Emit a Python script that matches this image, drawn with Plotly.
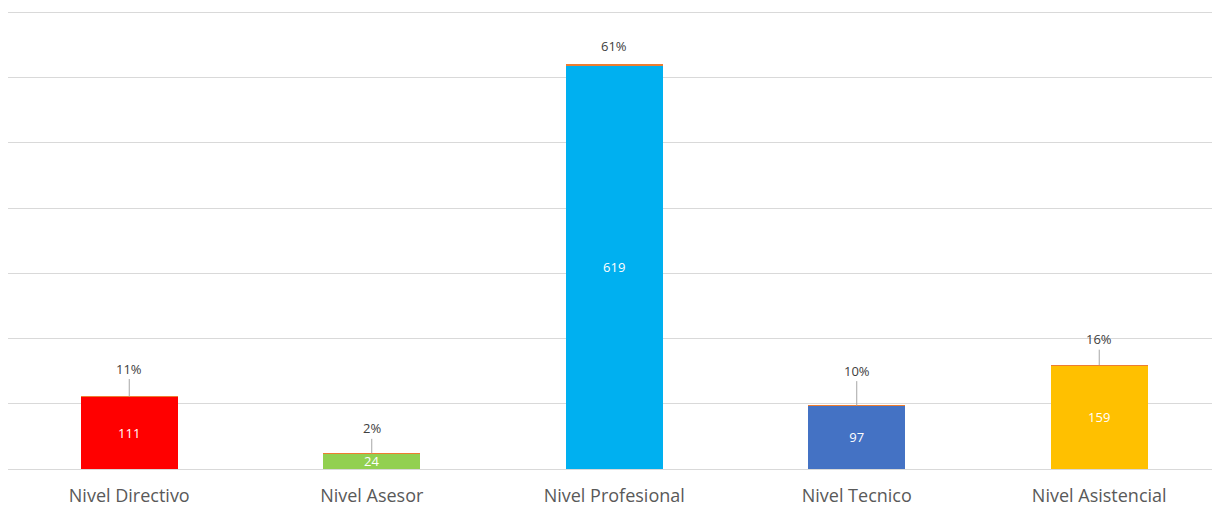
import plotly.graph_objects as go

# Staff headcount by level
categories = ["Nivel Directivo", "Nivel Asesor", "Nivel Profesional", "Nivel Tecnico", "Nivel Asistencial"]
counts = [111, 24, 619, 97, 159]
share_pct = [11, 2, 61, 10, 16]
bar_colors = ["#FF0000", "#92D050", "#00B0F0", "#4472C4", "#FFC000"]
# distance (px) between bar top and its percentage label
label_offsets = [28, 25, 19, 35, 26]

fig = go.Figure()
fig.add_trace(go.Bar(
    x=categories, y=counts,
    marker=dict(color=bar_colors, line=dict(width=0)),
    width=0.4,
    text=[str(v) for v in counts],
    textposition="inside", insidetextanchor="middle",
    textangle=0, constraintext="none", cliponaxis=False,
    textfont=dict(color="white", size=13, family="Open Sans"),
    showlegend=False,
))
# share series stacked on top (a hairline at this scale)
fig.add_trace(go.Bar(
    x=categories, y=[p / 100 for p in share_pct],
    marker=dict(color="#ED7D31", line=dict(width=0)),
    width=0.4, showlegend=False, hoverinfo="skip",
))

for cat, c, p, off in zip(categories, counts, share_pct, label_offsets):
    top = c + p / 100
    fig.add_annotation(
        x=cat, y=top, text=f"{p}%",
        showarrow=off > 20, arrowhead=0, arrowwidth=1, arrowcolor="#A6A6A6",
        ax=0, ay=-off, standoff=0, yshift=0 if off > 20 else off,
        font=dict(size=13, color="#404040", family="Open Sans"),
    )

fig.update_layout(
    width=1212, height=506,
    margin=dict(l=8, r=0, t=9, b=37),
    barmode="stack",
    plot_bgcolor="white", paper_bgcolor="white",
    font=dict(family="Open Sans", color="#595959"),
    xaxis=dict(
        range=[-0.5, 4.465], showgrid=False, showline=True, linecolor="#D9D9D9",
        linewidth=1, ticks="", tickfont=dict(size=18, color="#595959"),
        ticklabelstandoff=10,
    ),
    yaxis=dict(
        range=[0, 705], tickvals=[100, 200, 300, 400, 500, 600, 700],
        showgrid=True, gridcolor="#D9D9D9",
        showticklabels=False, zeroline=False, ticks="",
    ),
)

fig.write_html("out.html")
